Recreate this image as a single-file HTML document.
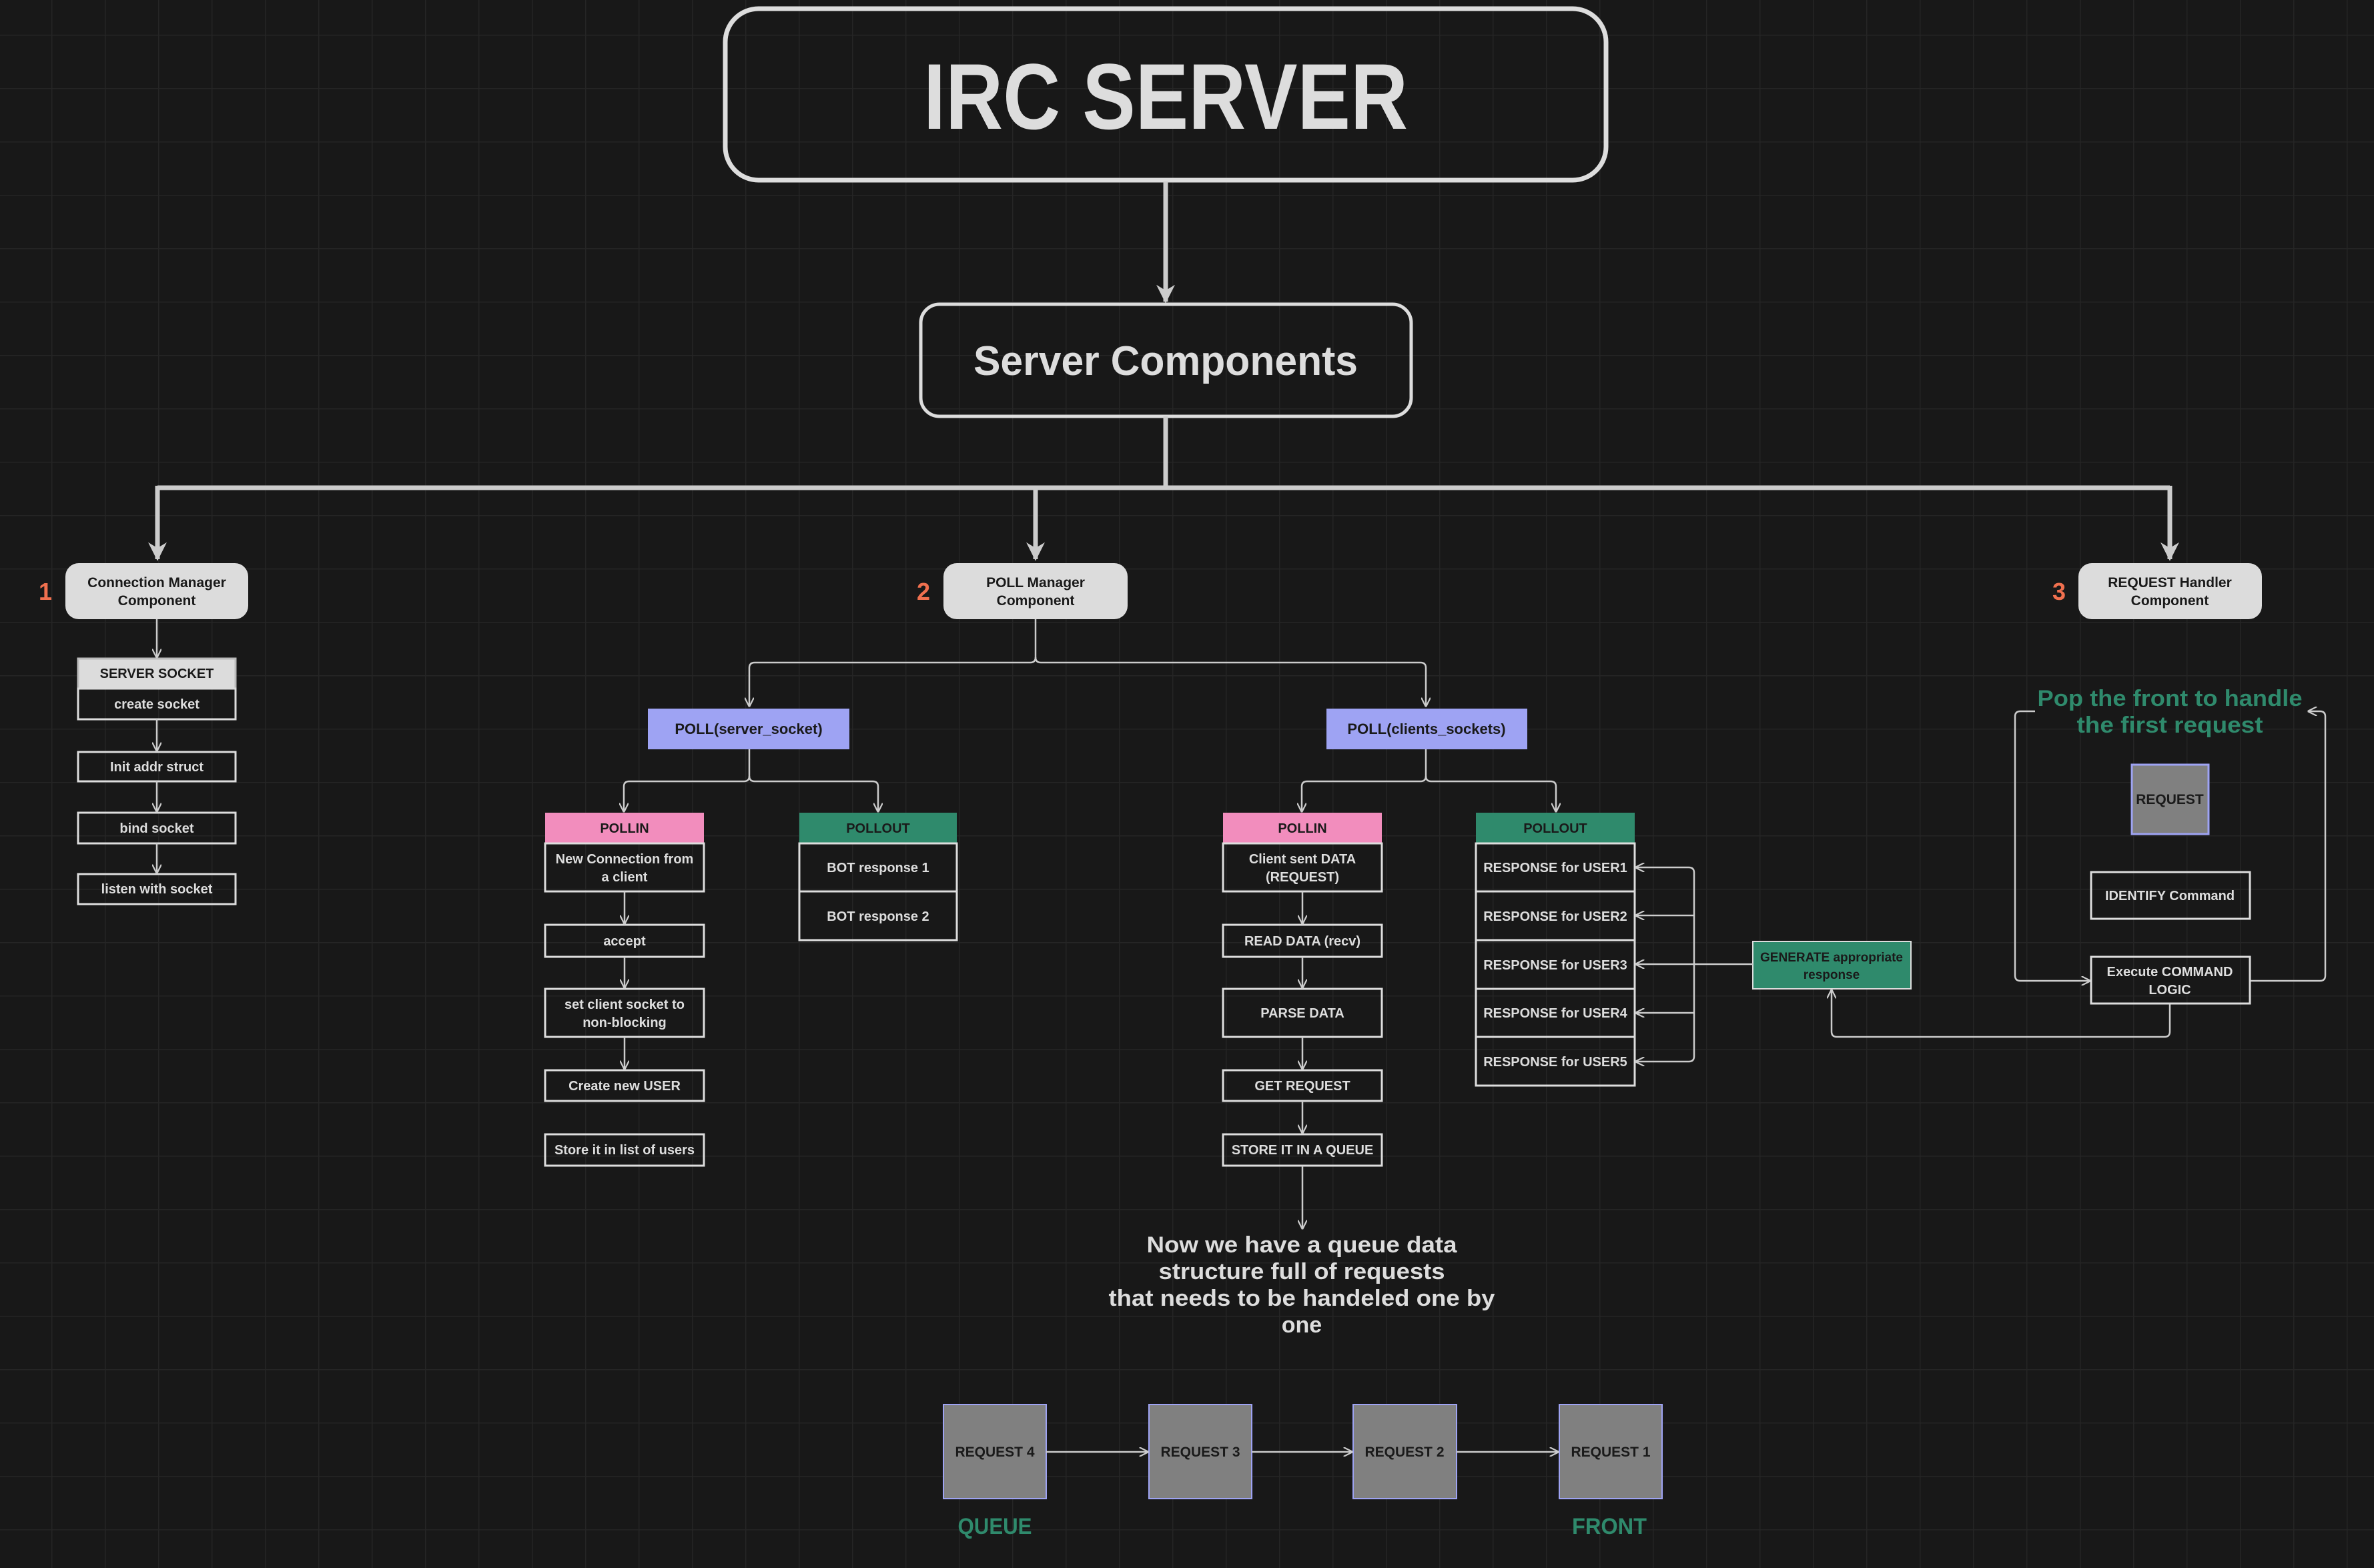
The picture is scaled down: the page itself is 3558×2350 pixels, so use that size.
<!DOCTYPE html>
<html><head><meta charset="utf-8"><style>
html,body{margin:0;padding:0;background:#181818;}
svg{display:block;}
text{font-family:"Liberation Sans",sans-serif;font-weight:bold;}
</style></head><body>
<svg width="3558" height="2350" viewBox="0 0 3558 2350" xmlns="http://www.w3.org/2000/svg">
<defs>
<pattern id="g" width="80" height="80" patternUnits="userSpaceOnUse" x="77" y="52">
<path d="M0 0H80M0 0V80" stroke="#252525" stroke-width="3" fill="none"/>
</pattern>
<marker id="a" viewBox="0 0 10 10" refX="9" refY="5" markerWidth="14" markerHeight="14" markerUnits="userSpaceOnUse" orient="auto">
<path d="M0 0L10 5L0 10" fill="none" stroke="#ccc" stroke-width="1.6"/>
</marker>
<marker id="A" viewBox="0 0 10 10" refX="9" refY="5" markerWidth="28" markerHeight="28" markerUnits="userSpaceOnUse" orient="auto">
<path d="M0 0L10 5L0 10L3 5Z" fill="#ccc"/>
</marker>
</defs>
<rect width="3558" height="2350" fill="#181818"/>
<rect width="3558" height="2350" fill="url(#g)"/>

<!-- Title -->
<rect x="1087" y="13" width="1320" height="257" rx="50" fill="none" stroke="#ddd" stroke-width="7"/>
<text x="1747" y="193" font-size="140" fill="#ddd" text-anchor="middle" textLength="726" lengthAdjust="spacingAndGlyphs">IRC SERVER</text>
<path d="M1747 272V452" stroke="#ccc" stroke-width="7" fill="none" marker-end="url(#A)"/>
<rect x="1380" y="456" width="735" height="168" rx="28" fill="none" stroke="#ddd" stroke-width="5"/>
<text x="1747" y="562" font-size="62" fill="#ddd" text-anchor="middle" textLength="576" lengthAdjust="spacingAndGlyphs">Server Components</text>

<g stroke="#ccc" stroke-width="7" fill="none">
<path d="M1747 624V731"/>
<path d="M236 731H3252"/>
<path d="M236 728V838" marker-end="url(#A)"/>
<path d="M1552 728V838" marker-end="url(#A)"/>
<path d="M3252 728V838" marker-end="url(#A)"/>
</g>

<!-- Components -->
<g fill="#dcdcdc">
<rect x="98" y="844" width="274" height="84" rx="20"/>
<rect x="1414" y="844" width="276" height="84" rx="20"/>
<rect x="3115" y="844" width="275" height="84" rx="20"/>
</g>
<g font-size="21" fill="#1a1a1a" text-anchor="middle">
<text x="235" y="880">Connection Manager</text><text x="235" y="907">Component</text>
<text x="1552" y="880">POLL Manager</text><text x="1552" y="907">Component</text>
<text x="3252" y="880">REQUEST Handler</text><text x="3252" y="907">Component</text>
</g>
<g font-size="36" fill="#f0704f" text-anchor="middle">
<text x="68" y="899">1</text><text x="1384" y="899">2</text><text x="3086" y="899">3</text>
</g>

<!-- Column 1 -->
<g stroke="#ddd" stroke-width="3" fill="none">
<rect x="117" y="987" width="236" height="45" fill="#dcdcdc" stroke="#bbb"/>
<rect x="117" y="1032" width="236" height="46"/>
<rect x="117" y="1127" width="236" height="44"/>
<rect x="117" y="1218" width="236" height="46"/>
<rect x="117" y="1310" width="236" height="45"/>
</g>
<g stroke="#ccc" stroke-width="2.5" fill="none" marker-end="url(#a)">
<path d="M235 928V985"/><path d="M235 1078V1125"/><path d="M235 1171V1216"/><path d="M235 1264V1308"/>
</g>
<g font-size="20" text-anchor="middle" fill="#ddd">
<text x="235" y="1016" fill="#1a1a1a">SERVER SOCKET</text>
<text x="235" y="1062">create socket</text>
<text x="235" y="1156">Init addr struct</text>
<text x="235" y="1248">bind socket</text>
<text x="235" y="1339">listen with socket</text>
</g>

<!-- Poll splits -->
<g stroke="#ccc" stroke-width="2.5" fill="none">
<path d="M1552 928V985q0 8 -8 8H1131q-8 0 -8 8V1058" marker-end="url(#a)"/>
<path d="M1552 985q0 8 8 8H2129q8 0 8 8V1058" marker-end="url(#a)"/>
<path d="M1123 1123V1163q0 8 -8 8H943q-8 0 -8 8V1216" marker-end="url(#a)"/>
<path d="M1123 1163q0 8 8 8H1308q8 0 8 8V1216" marker-end="url(#a)"/>
<path d="M2137 1123V1163q0 8 -8 8H1959q-8 0 -8 8V1216" marker-end="url(#a)"/>
<path d="M2137 1163q0 8 8 8H2324q8 0 8 8V1216" marker-end="url(#a)"/>
</g>
<rect x="971" y="1062" width="302" height="61" fill="#9ea3f3"/>
<rect x="1988" y="1062" width="301" height="61" fill="#9ea3f3"/>
<g font-size="22" fill="#1a1a1a" text-anchor="middle">
<text x="1122" y="1100">POLL(server_socket)</text>
<text x="2138" y="1100">POLL(clients_sockets)</text>
</g>

<rect x="817" y="1218" width="238" height="46" fill="#f28dbd"/>
<rect x="1198" y="1218" width="236" height="46" fill="#2f8a6c"/>
<rect x="1833" y="1218" width="238" height="46" fill="#f28dbd"/>
<rect x="2212" y="1218" width="238" height="46" fill="#2f8a6c"/>
<g font-size="20" fill="#1a1a1a" text-anchor="middle">
<text x="936" y="1248">POLLIN</text><text x="1316" y="1248">POLLOUT</text>
<text x="1952" y="1248">POLLIN</text><text x="2331" y="1248">POLLOUT</text>
</g>
<g stroke="#ddd" stroke-width="3" fill="none">
<rect x="817" y="1264" width="238" height="72"/>
<rect x="817" y="1386" width="238" height="48"/>
<rect x="817" y="1482" width="238" height="72"/>
<rect x="817" y="1604" width="238" height="46"/>
<rect x="817" y="1700" width="238" height="47"/>
<rect x="1198" y="1264" width="236" height="72"/>
<rect x="1198" y="1336" width="236" height="73"/>
<rect x="1833" y="1264" width="238" height="72"/>
<rect x="1833" y="1386" width="238" height="48"/>
<rect x="1833" y="1482" width="238" height="72"/>
<rect x="1833" y="1604" width="238" height="46"/>
<rect x="1833" y="1700" width="238" height="47"/>
<rect x="2212" y="1264" width="238" height="72"/>
<rect x="2212" y="1336" width="238" height="73"/>
<rect x="2212" y="1409" width="238" height="73"/>
<rect x="2212" y="1482" width="238" height="72"/>
<rect x="2212" y="1554" width="238" height="73"/>
</g>
<g stroke="#ccc" stroke-width="2.5" fill="none" marker-end="url(#a)">
<path d="M936 1336V1384"/><path d="M936 1434V1480"/><path d="M936 1554V1602"/>
<path d="M1952 1336V1384"/><path d="M1952 1434V1480"/><path d="M1952 1554V1602"/><path d="M1952 1650V1698"/>
<path d="M1952 1747V1841"/>
</g>
<g font-size="20" fill="#ddd" text-anchor="middle">
<text x="936" y="1294">New Connection from</text><text x="936" y="1321">a client</text>
<text x="936" y="1417">accept</text>
<text x="936" y="1512">set client socket to</text><text x="936" y="1539">non-blocking</text>
<text x="936" y="1634">Create new USER</text>
<text x="936" y="1730">Store it in list of users</text>
<text x="1316" y="1307">BOT response 1</text>
<text x="1316" y="1380">BOT response 2</text>
<text x="1952" y="1294">Client sent DATA</text><text x="1952" y="1321">(REQUEST)</text>
<text x="1952" y="1417">READ DATA (recv)</text>
<text x="1952" y="1525">PARSE DATA</text>
<text x="1952" y="1634">GET REQUEST</text>
<text x="1952" y="1730">STORE IT IN A QUEUE</text>
<text x="2331" y="1307">RESPONSE for USER1</text>
<text x="2331" y="1380">RESPONSE for USER2</text>
<text x="2331" y="1453">RESPONSE for USER3</text>
<text x="2331" y="1525">RESPONSE for USER4</text>
<text x="2331" y="1598">RESPONSE for USER5</text>
</g>

<!-- Generate -->
<rect x="2627" y="1411" width="237" height="71" fill="#2f8a6c" stroke="#ddd" stroke-width="2"/>
<g font-size="19" fill="#1a1a1a" text-anchor="middle">
<text x="2745" y="1441">GENERATE appropriate</text><text x="2745" y="1467">response</text>
</g>
<g stroke="#ccc" stroke-width="2.5" fill="none">
<path d="M2627 1445H2539"/>
<path d="M2539 1308V1583"/>
<path d="M2539 1308q0 -8 -8 -8H2452" marker-end="url(#a)"/>
<path d="M2539 1372H2452" marker-end="url(#a)"/>
<path d="M2539 1445H2452" marker-end="url(#a)"/>
<path d="M2539 1518H2452" marker-end="url(#a)"/>
<path d="M2539 1583q0 8 -8 8H2452" marker-end="url(#a)"/>
<path d="M3252 1504V1546q0 8 -8 8H2753q-8 0 -8 -8V1484" marker-end="url(#a)"/>
<path d="M3050 1066H3028q-8 0 -8 8V1462q0 8 8 8H3132" marker-end="url(#a)"/>
<path d="M3372 1470H3477q8 0 8 -8V1074q0 -8 -8 -8H3460" marker-end="url(#a)"/>
</g>

<!-- Request handler -->
<g font-size="34" fill="#2f8a6c" text-anchor="middle">
<text x="3252" y="1058" textLength="397" lengthAdjust="spacingAndGlyphs">Pop the front to handle</text>
<text x="3252" y="1098" textLength="279" lengthAdjust="spacingAndGlyphs">the first request</text>
</g>
<rect x="3195" y="1146" width="115" height="104" fill="#808080" stroke="#9ea3f3" stroke-width="3"/>
<text x="3252" y="1205" font-size="21" fill="#1a1a1a" text-anchor="middle">REQUEST</text>
<g stroke="#ddd" stroke-width="3" fill="none">
<rect x="3134" y="1307" width="238" height="70"/>
<rect x="3134" y="1434" width="238" height="70"/>
</g>
<g font-size="20" fill="#ddd" text-anchor="middle">
<text x="3252" y="1349">IDENTIFY Command</text>
<text x="3252" y="1463">Execute COMMAND</text><text x="3252" y="1490">LOGIC</text>
</g>

<!-- Queue text -->
<g font-size="34" fill="#ddd" text-anchor="middle">
<text x="1951" y="1877" textLength="465" lengthAdjust="spacingAndGlyphs">Now we have a queue data</text>
<text x="1951" y="1917" textLength="429" lengthAdjust="spacingAndGlyphs">structure full of requests</text>
<text x="1951" y="1957" textLength="579" lengthAdjust="spacingAndGlyphs">that needs to be handeled one by</text>
<text x="1951" y="1997">one</text>
</g>
<g fill="#808080" stroke="#9ea3f3" stroke-width="2">
<rect x="1414" y="2105" width="154" height="141"/>
<rect x="1722" y="2105" width="154" height="141"/>
<rect x="2028" y="2105" width="155" height="141"/>
<rect x="2337" y="2105" width="154" height="141"/>
</g>
<g font-size="21" fill="#1a1a1a" text-anchor="middle">
<text x="1491" y="2183">REQUEST 4</text>
<text x="1799" y="2183">REQUEST 3</text>
<text x="2105" y="2183">REQUEST 2</text>
<text x="2414" y="2183">REQUEST 1</text>
</g>
<g stroke="#ccc" stroke-width="2.5" fill="none" marker-end="url(#a)">
<path d="M1568 2176H1720"/><path d="M1876 2176H2026"/><path d="M2183 2176H2335"/>
</g>
<g font-size="34" fill="#2f8a6c" text-anchor="middle">
<text x="1491" y="2299" textLength="111" lengthAdjust="spacingAndGlyphs">QUEUE</text>
<text x="2412" y="2299" textLength="112" lengthAdjust="spacingAndGlyphs">FRONT</text>
</g>
</svg>
</body></html>
